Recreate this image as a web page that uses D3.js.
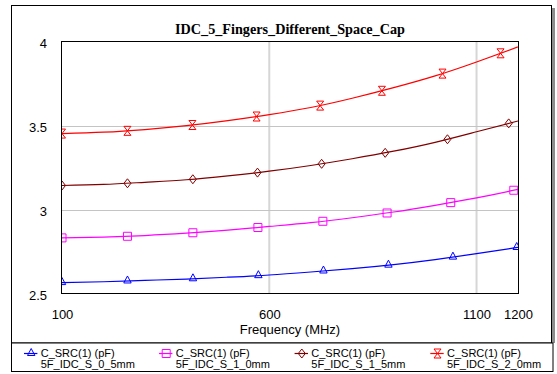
<!DOCTYPE html>
<html>
<head>
<meta charset="utf-8">
<script src="https://cdn.jsdelivr.net/npm/d3@7"></script>
<style>
  body { margin: 0; background: #fff; }
  text { font-family: "Liberation Sans", Arial, sans-serif; }
</style>
</head>
<body>
<svg id="chart" width="557" height="374"></svg>
<script>
// Frequency sweep (MHz)
const freqs = [100, 200, 300, 400, 500, 600, 700, 800, 900, 1000, 1100, 1200];

// Extracted capacitance C_SRC(1) in pF, one array per finger spacing
const capS0_5 = [2.565, 2.570, 2.578, 2.586, 2.597, 2.610, 2.628, 2.648, 2.672, 2.702, 2.737, 2.775];
const capS1_0 = [2.831, 2.836, 2.845, 2.859, 2.877, 2.899, 2.922, 2.951, 2.985, 3.025, 3.069, 3.120];
const capS1_5 = [3.143, 3.149, 3.162, 3.177, 3.200, 3.228, 3.262, 3.302, 3.347, 3.400, 3.463, 3.527];
const capS2_0 = [3.452, 3.460, 3.476, 3.499, 3.529, 3.565, 3.607, 3.662, 3.725, 3.795, 3.878, 3.968];

const seriesNames = ["5F_IDC_S_0_5mm", "5F_IDC_S_1_0mm", "5F_IDC_S_1_5mm", "5F_IDC_S_2_0mm"];
const measLabel = "C_SRC(1) (pF)";
const titleText = "IDC_5_Fingers_Different_Space_Cap";
const xLabel = "Frequency (MHz)";

const xTicks = [100, 600, 1100, 1200];
const yTicks = [2.5, 3, 3.5, 4];
const xGrid = [600, 1100];
const yGrid = [3, 3.5];

const series = [
  { name: seriesNames[0], values: capS0_5, color: "#0000ff", marker: "triangle" },
  { name: seriesNames[1], values: capS1_0, color: "#ff00ff", marker: "square" },
  { name: seriesNames[2], values: capS1_5, color: "#800000", marker: "diamond" },
  { name: seriesNames[3], values: capS2_0, color: "#ff0000", marker: "hourglass" }
];

// Marker outlines, centred on the trace point
const markerPaths = {
  triangle: "M0,-5L3.7,2L-3.7,2Z",
  square: "M-4,-4H4V4H-4Z",
  diamond: "M0,-4.5L3.5,0L0,4.5L-3.5,0Z",
  hourglass: "M-3.5,-4.5H3.5L-3.5,4.5H3.5Z"
};
// Markers are spaced along each trace by a fixed distance in which
// vertical travel counts more than horizontal travel.
const markerSpacing = 65.5;
const markerYWeight = 1.47;

const svg = d3.select("#chart");

const plot = { left: 62, right: 518, top: 41.5, bottom: 293.5 };

const x = d3.scaleLinear().domain([100, 1200]).range([plot.left, plot.right]);
const y = d3.scaleLinear().domain([2.5, 4]).range([plot.bottom, plot.top]);

// Outer frame with a drop shadow on the right
svg.append("rect")
  .attr("x", 552).attr("y", 8).attr("width", 3).attr("height", 335)
  .attr("fill", "#8c8c8c");
svg.append("rect")
  .attr("x", 11.5).attr("y", 5.5).attr("width", 540).attr("height", 337.5)
  .attr("fill", "#fff").attr("stroke", "#000").attr("stroke-width", 1);

// Legend box
svg.append("rect")
  .attr("x", 11.5).attr("y", 343).attr("width", 541.5).attr("height", 28.5)
  .attr("fill", "#fff").attr("stroke", "#000").attr("stroke-width", 1);

// Title
svg.append("text")
  .attr("x", (plot.left + plot.right) / 2).attr("y", 34)
  .attr("text-anchor", "middle")
  .style("font-family", "'Liberation Serif', 'Times New Roman', serif")
  .style("font-weight", "bold").style("font-size", "14.2px")
  .text(titleText);

// Grid lines
svg.append("g").selectAll("line").data(xGrid).join("line")
  .attr("x1", d => x(d)).attr("x2", d => x(d))
  .attr("y1", plot.top).attr("y2", plot.bottom)
  .attr("stroke", "#d6d6d6").attr("stroke-width", 2);
svg.append("g").selectAll("line").data(yGrid).join("line")
  .attr("x1", plot.left).attr("x2", plot.right)
  .attr("y1", d => Math.round(y(d)) + 0.5).attr("y2", d => Math.round(y(d)) + 0.5)
  .attr("stroke", "#c4c4c4").attr("stroke-width", 1);

// Axes (labels only; the plot frame is drawn as a box)
const xAxis = svg.append("g")
  .attr("transform", `translate(0,${plot.bottom})`)
  .call(d3.axisBottom(x).tickValues(xTicks).tickSize(0).tickPadding(16).tickFormat(d3.format("d")));
const yAxis = svg.append("g")
  .attr("transform", `translate(${plot.left},1.5)`)
  .call(d3.axisLeft(y).tickValues(yTicks).tickSize(0).tickPadding(15).tickFormat(d => String(d)));
[xAxis, yAxis].forEach(g => {
  g.select(".domain").remove();
  g.selectAll("text")
    .style("font-family", "'Liberation Sans', Arial, sans-serif")
    .style("font-size", "13px").attr("fill", "#000");
});

svg.append("text")
  .attr("x", (plot.left + plot.right) / 2).attr("y", 334)
  .attr("text-anchor", "middle").style("font-size", "13px")
  .text(xLabel);

// Clip traces and markers to the plot area
svg.append("clipPath").attr("id", "plotClip")
  .append("rect")
  .attr("x", plot.left).attr("y", plot.top)
  .attr("width", plot.right - plot.left).attr("height", plot.bottom - plot.top);

const line = d3.line()
  .x((d, i) => x(freqs[i]))
  .y(d => y(d))
  .curve(d3.curveNatural);

const traces = svg.append("g").attr("clip-path", "url(#plotClip)");

function markerPoints(node) {
  const total = node.getTotalLength();
  const step = 0.25;
  let prev = node.getPointAtLength(0);
  const pts = [prev];
  let acc = 0;
  for (let l = step; l <= total; l += step) {
    const p = node.getPointAtLength(l);
    const dx = p.x - prev.x, dy = (p.y - prev.y) * markerYWeight;
    acc += Math.sqrt(dx * dx + dy * dy);
    if (acc >= markerSpacing) { pts.push(p); acc -= markerSpacing; }
    prev = p;
  }
  return pts;
}

series.forEach(s => {
  const path = traces.append("path")
    .datum(s.values)
    .attr("d", line)
    .attr("fill", "none")
    .attr("stroke", s.color)
    .attr("stroke-width", 1.2);

  const pts = markerPoints(path.node());

  traces.append("g").selectAll("path").data(pts).join("path")
    .attr("transform", p => `translate(${p.x},${p.y})`)
    .attr("d", markerPaths[s.marker])
    .attr("fill", "none")
    .attr("stroke", s.color)
    .attr("stroke-width", 1);
});

// Plot frame
svg.append("rect")
  .attr("x", plot.left - 0.5).attr("y", plot.top)
  .attr("width", plot.right - plot.left + 1).attr("height", plot.bottom - plot.top)
  .attr("fill", "none").attr("stroke", "#000").attr("stroke-width", 1);

// Legend entries
const legendX = [40.7, 175.7, 311.3, 447];
const legend = svg.append("g");
series.forEach((s, i) => {
  const g = legend.append("g").attr("transform", `translate(${legendX[i]},0)`);
  g.append("line")
    .attr("x1", -16.7).attr("x2", -3.3)
    .attr("y1", 353.5).attr("y2", 353.5)
    .attr("stroke", s.color).attr("stroke-width", 1.2);
  g.append("path")
    .attr("transform", "translate(-9.5,353.5)")
    .attr("d", markerPaths[s.marker])
    .attr("fill", "none").attr("stroke", s.color).attr("stroke-width", 1);
  g.append("text").attr("x", 0).attr("y", 356.7)
    .style("font-size", "11px").text(measLabel);
  g.append("text").attr("x", 0).attr("y", 367.5)
    .style("font-size", "11px").text(s.name);
});
</script>
</body>
</html>
